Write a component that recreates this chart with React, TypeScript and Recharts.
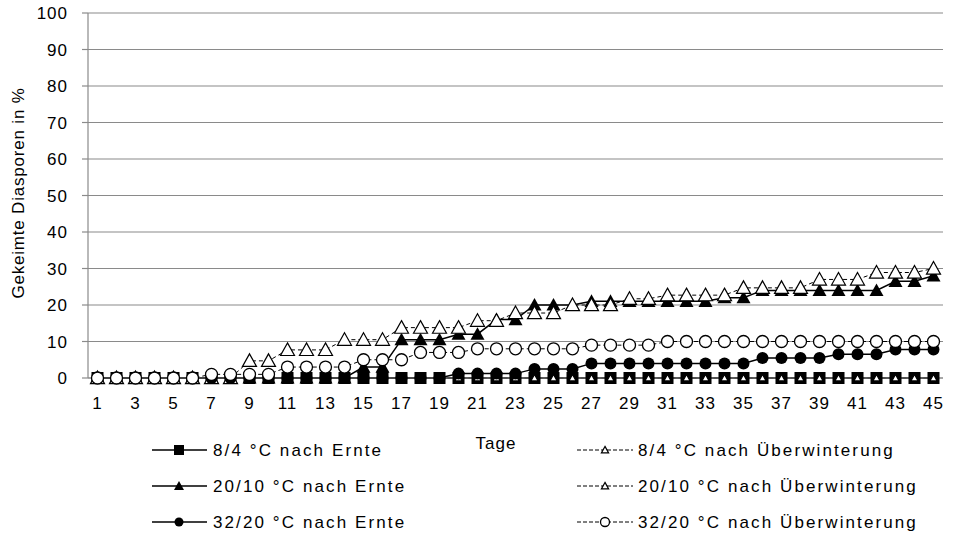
import { LineChart, Line, XAxis, YAxis, CartesianGrid } from 'recharts'

// Tage
const days = Array.from({ length: 45 }, (_, i) => i + 1)
const dayTicks = [1, 3, 5, 7, 9, 11, 13, 15, 17, 19, 21, 23, 25, 27, 29, 31, 33, 35, 37, 39, 41, 43, 45]
const yTicks = [0, 10, 20, 30, 40, 50, 60, 70, 80, 90, 100]

// Gekeimte Diasporen in %
const ernte84 = [0, 0, 0, 0, 0, 0, 0, 0, 0, 0, 0, 0, 0, 0, 0, 0, 0, 0, 0, 0, 0, 0, 0, 0, 0, 0, 0, 0, 0, 0, 0, 0, 0, 0, 0, 0, 0, 0, 0, 0, 0, 0, 0, 0, 0]
const winter84 = [0, 0, 0, 0, 0, 0, 0, 0, 0, 0, 0, 0, 0, 0, 0, 0, 0, 0, 0, 0, 0, 0, 0, 0, 0, 0, 0, 0, 0, 0, 0, 0, 0, 0, 0, 0, 0, 0, 0, 0, 0, 0, 0, 0, 0]
const ernte2010 = [0, 0, 0, 0, 0, 0, 0, 0, 0, 0, 0, 0, 0, 0, 3, 3, 10.5, 10.5, 10.5, 12, 12, 16, 16, 20, 20, 20, 21, 21, 21, 21, 21, 21, 21, 22, 22, 24, 24, 24, 24, 24, 24, 24, 26.5, 26.5, 28]
const winter2010 = [0, 0, 0, 0, 0, 0, 0, 0, 4.7, 4.7, 7.7, 7.7, 7.7, 10.5, 10.5, 10.5, 13.8, 13.8, 13.8, 13.8, 15.7, 15.7, 17.8, 17.8, 17.8, 20, 20, 20, 21.7, 21.7, 22.7, 22.7, 22.7, 22.7, 24.7, 24.7, 24.7, 24.7, 27, 27, 27, 28.9, 28.9, 28.9, 30]
const ernte3220 = [0, 0, 0, 0, 0, 0, 0, 0, 0, 0, 0, 0, 0, 0, 0, 0, 0, 0, 0, 1.2, 1.2, 1.2, 1.2, 2.5, 2.5, 2.5, 4, 4, 4, 4, 4, 4, 4, 4, 4, 5.5, 5.5, 5.5, 5.5, 6.5, 6.5, 6.5, 7.8, 7.8, 7.8]
const winter3220 = [0, 0, 0, 0, 0, 0, 1, 1, 1, 1, 3, 3, 3, 3, 5, 5, 5, 7, 7, 7, 8, 8, 8, 8, 8, 8, 9, 9, 9, 9, 10, 10, 10, 10, 10, 10, 10, 10, 10, 10, 10, 10, 10, 10, 10]

type Shape = 'square' | 'triangle' | 'smallTriangle' | 'circle'

const series: { key: string; name: string; values: number[]; shape: Shape; open: boolean }[] = [
  { key: 'e84', name: '8/4 °C nach Ernte', values: ernte84, shape: 'square', open: false },
  { key: 'w84', name: '8/4 °C nach Überwinterung', values: winter84, shape: 'smallTriangle', open: true },
  { key: 'e2010', name: '20/10 °C nach Ernte', values: ernte2010, shape: 'triangle', open: false },
  { key: 'w2010', name: '20/10 °C nach Überwinterung', values: winter2010, shape: 'triangle', open: true },
  { key: 'e3220', name: '32/20 °C nach Ernte', values: ernte3220, shape: 'circle', open: false },
  { key: 'w3220', name: '32/20 °C nach Überwinterung', values: winter3220, shape: 'circle', open: true },
]

const data = days.map((day, i) => {
  const row: Record<string, number> = { day }
  series.forEach(s => { row[s.key] = s.values[i] })
  return row
})

// Teilstriche zwischen den Tagen
const dayEdges = [days[0] - 0.5, ...days.map(d => d + 0.5)]

const GRID = '#8a8a8a'
const FONT = '"Liberation Sans", Arial, sans-serif'

function Marker({ cx, cy, shape, open, small }: { cx: number; cy: number; shape: Shape; open: boolean; small?: boolean }) {
  const fill = open ? '#fff' : '#000'
  if (shape === 'square') {
    const h = small ? 5 : 6
    return <rect x={cx - h} y={cy - h} width={h * 2} height={h * 2} fill={fill} />
  }
  if (shape === 'triangle' || shape === 'smallTriangle') {
    const s = shape === 'smallTriangle' ? 3.6 : small ? 5 : 7
    const pts = `${cx},${cy - s} ${cx + s},${cy + s * 0.8} ${cx - s},${cy + s * 0.8}`
    return <polygon points={pts} fill={fill} stroke="#000" strokeWidth={open ? 1.2 : 0} />
  }
  const r = small ? 4.5 : 6
  return <circle cx={cx} cy={cy} r={r} fill={fill} stroke="#000" strokeWidth={open ? 1.3 : 0} />
}

const tickStyle = { fontFamily: FONT, fontSize: 17, fill: '#000', letterSpacing: 1 }

export default function App() {
  const leftCol = series.filter(s => !s.open)
  const rightCol = series.filter(s => s.open)
  const rowY = [450, 486, 522]

  return (
    <div style={{ position: 'absolute', left: 0, top: 0, width: 961, height: 536, background: '#fff' }}>
      <LineChart width={961} height={536} data={data} margin={{ top: 13, right: 18, bottom: 123, left: 0 }}>
        <CartesianGrid vertical={false} stroke={GRID} strokeWidth={1.2} />
        <XAxis
          dataKey="day"
          type="number"
          domain={[0.5, 45.5]}
          ticks={dayEdges}
          tick={false}
          tickSize={5}
          height={5}
          stroke={GRID}
          strokeWidth={1.2}
        />
        <XAxis
          xAxisId="lab"
          dataKey="day"
          type="number"
          domain={[0.5, 45.5]}
          ticks={dayTicks}
          tickLine={false}
          axisLine={false}
          tickSize={0}
          tickMargin={14}
          height={30}
          tick={tickStyle}
          interval={0}
        />
        <YAxis
          width={88}
          domain={[0, 100]}
          ticks={yTicks}
          tickSize={6}
          tickMargin={14}
          stroke={GRID}
          strokeWidth={1.2}
          tick={tickStyle}
          interval={0}
        />
        {series.map(s => (
          <Line
            key={s.key}
            dataKey={s.key}
            name={s.name}
            type="linear"
            stroke="#000"
            strokeWidth={s.open ? 1 : 1.5}
            strokeDasharray={s.open ? '4 3' : undefined}
            dot={(p: any) => <Marker key={`${s.key}-${p.index}`} cx={p.cx} cy={p.cy} shape={s.shape} open={s.open} />}
            activeDot={false}
            isAnimationActive={false}
          />
        ))}
      </LineChart>
      <svg width={961} height={536} style={{ position: 'absolute', left: 0, top: 0, pointerEvents: 'none' }}>
        <text
          x={18}
          y={193}
          transform="rotate(-90 18 193)"
          textAnchor="middle"
          dominantBaseline="central"
          style={{ ...tickStyle, letterSpacing: 0.8 }}
        >
          Gekeimte Diasporen in %
        </text>
        <text x={496} y={443} textAnchor="middle" dominantBaseline="central" style={tickStyle}>
          Tage
        </text>
        {leftCol.map((s, i) => (
          <g key={s.key}>
            <line x1={152} x2={207} y1={rowY[i]} y2={rowY[i]} stroke="#000" strokeWidth={1.5} />
            <Marker cx={179} cy={rowY[i]} shape={s.shape} open={false} small />
            <text x={213} y={rowY[i]} dominantBaseline="central" style={{ ...tickStyle, letterSpacing: 2.1 }}>
              {s.name}
            </text>
          </g>
        ))}
        {rightCol.map((s, i) => (
          <g key={s.key}>
            <line x1={577} x2={633} y1={rowY[i]} y2={rowY[i]} stroke="#000" strokeWidth={1} strokeDasharray="4 2" />
            <Marker cx={605} cy={rowY[i]} shape={s.shape === 'circle' ? 'circle' : 'smallTriangle'} open small />
            <text x={638} y={rowY[i]} dominantBaseline="central" style={{ ...tickStyle, letterSpacing: 2.1 }}>
              {s.name}
            </text>
          </g>
        ))}
      </svg>
    </div>
  )
}
